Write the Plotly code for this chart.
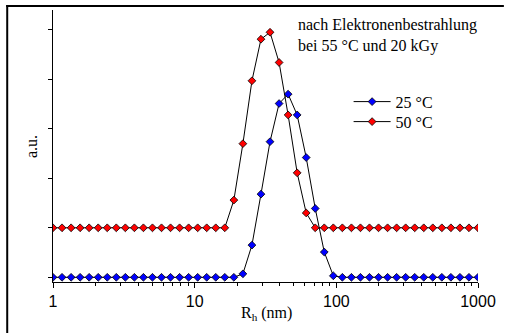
import plotly.graph_objects as go

# Hydrodynamic radius R_h (nm), log-spaced sampling 1..1000
rh = [1.000, 1.158, 1.342, 1.554, 1.800, 2.085, 2.415, 2.798, 3.241, 3.754,
      4.348, 5.036, 5.834, 6.757, 7.827, 9.066, 10.50, 12.16, 14.09, 16.32,
      18.91, 21.90, 25.37, 29.38, 34.04, 39.43, 45.67, 52.90, 61.27, 70.97,
      82.21, 95.22, 110.3, 127.8, 148.0, 171.4, 198.6, 230.0, 266.4, 308.6,
      357.5, 414.1, 479.6, 555.6, 643.6, 745.5, 863.5, 1000.0]

# 25 °C distribution (a.u.)
y25 = [0, 0, 0, 0, 0, 0, 0, 0, 0, 0,
       0, 0, 0, 0, 0, 0, 0, 0, 0, 0,
       0, 0.07, 0.65, 1.68, 2.74, 3.51, 3.70, 3.28, 2.42, 1.39,
       0.51, 0.03, 0, 0, 0, 0, 0, 0, 0, 0,
       0, 0, 0, 0, 0, 0, 0, 0]

# 50 °C distribution (a.u., offset)
y50 = [1, 1, 1, 1, 1, 1, 1, 1, 1, 1,
       1, 1, 1, 1, 1, 1, 1, 1, 1, 1,
       1.56, 2.70, 3.97, 4.81, 4.95, 4.34, 3.28, 2.11, 1.30, 1,
       1, 1, 1, 1, 1, 1, 1, 1, 1, 1,
       1, 1, 1, 1, 1, 1, 1, 1]

series_names = ["25 °C", "50 °C"]
series_colors = ["#0000FF", "#FF0000"]
series_legends = ["legend", "legend2"]

x_tick_vals = [1, 10, 100, 1000]
x_tick_text = ["1", "10", "100", "1000"]
x_minor_vals = [m * d for d in (1, 10, 100) for m in range(2, 10)]
y_tick_vals = [0, 1, 2, 3, 4, 5]

SERIF = "Liberation Serif, Times New Roman, serif"
SANS = "Liberation Sans, Arial, sans-serif"

W, H = 506, 333
ML, MR, MT, MB = 53, 26, 10, 51
PW, PH = W - ML - MR, H - MT - MB


def px_x(px):
    return (px - ML) / PW


def px_y(py):
    return (H - MB - py) / PH


fig = go.Figure()
for name, ys, col, lg in zip(series_names, [y25, y50], series_colors, series_legends):
    fig.add_trace(go.Scatter(
        x=rh, y=ys, name=name, mode="lines+markers", legend=lg,
        line=dict(color="black", width=1),
        marker=dict(symbol="diamond", size=6, color=col,
                    line=dict(color="black", width=0.8)),
    ))


def legend_box(py):
    return dict(x=px_x(350), y=px_y(py), xanchor="left", yanchor="middle",
                font=dict(family=SERIF, size=16, color="black"),
                bgcolor="rgba(0,0,0,0)", borderwidth=0, itemwidth=37)


fig.update_layout(
    width=W, height=H,
    margin=dict(l=ML, r=MR, t=MT, b=MB),
    paper_bgcolor="white", plot_bgcolor="white",
    showlegend=True,
    legend=legend_box(101.7),
    legend2=legend_box(121.7),
    xaxis=dict(type="log", range=[0, 3], tickvals=x_tick_vals, ticktext=x_tick_text,
               ticks="outside", ticklen=5, tickwidth=1, tickcolor="black",
               showline=True, linecolor="black", linewidth=1,
               showgrid=False, zeroline=False,
               tickfont=dict(family=SANS, size=16, color="black"),
               minor=dict(tickvals=x_minor_vals, ticks="outside", ticklen=3,
                          tickwidth=1, tickcolor="black", showgrid=False)),
    yaxis=dict(range=[-0.095, 5.40], tickvals=y_tick_vals, showticklabels=False,
               ticks="outside", ticklen=4, tickwidth=1, tickcolor="black",
               showline=True, linecolor="black", linewidth=1,
               showgrid=False, zeroline=False),
    annotations=[
        dict(text="R<sub>h</sub> (nm)", x=px_x(268), y=px_y(313), xref="paper", yref="paper",
             xanchor="center", yanchor="middle", showarrow=False,
             font=dict(family=SERIF, size=16, color="black")),
        dict(text="a.u.", x=px_x(31), y=px_y(147), xref="paper", yref="paper",
             xanchor="center", yanchor="middle", textangle=-90, showarrow=False,
             font=dict(family=SERIF, size=16, color="black")),
        dict(text="nach Elektronenbestrahlung<br>bei 55 °C und 20 kGy",
             x=px_x(297), y=px_y(14), xref="paper", yref="paper",
             xanchor="left", yanchor="top", align="left", showarrow=False,
             font=dict(family=SERIF, size=16, color="black")),
    ],
    shapes=[
        dict(type="line", xref="paper", yref="paper", x0=px_x(6), x1=px_x(506),
             y0=px_y(6), y1=px_y(6), line=dict(color="black", width=2)),
        dict(type="line", xref="paper", yref="paper", x0=px_x(7), x1=px_x(7),
             y0=px_y(5), y1=px_y(333), line=dict(color="black", width=2)),
    ],
)

fig.write_html("out.html")
